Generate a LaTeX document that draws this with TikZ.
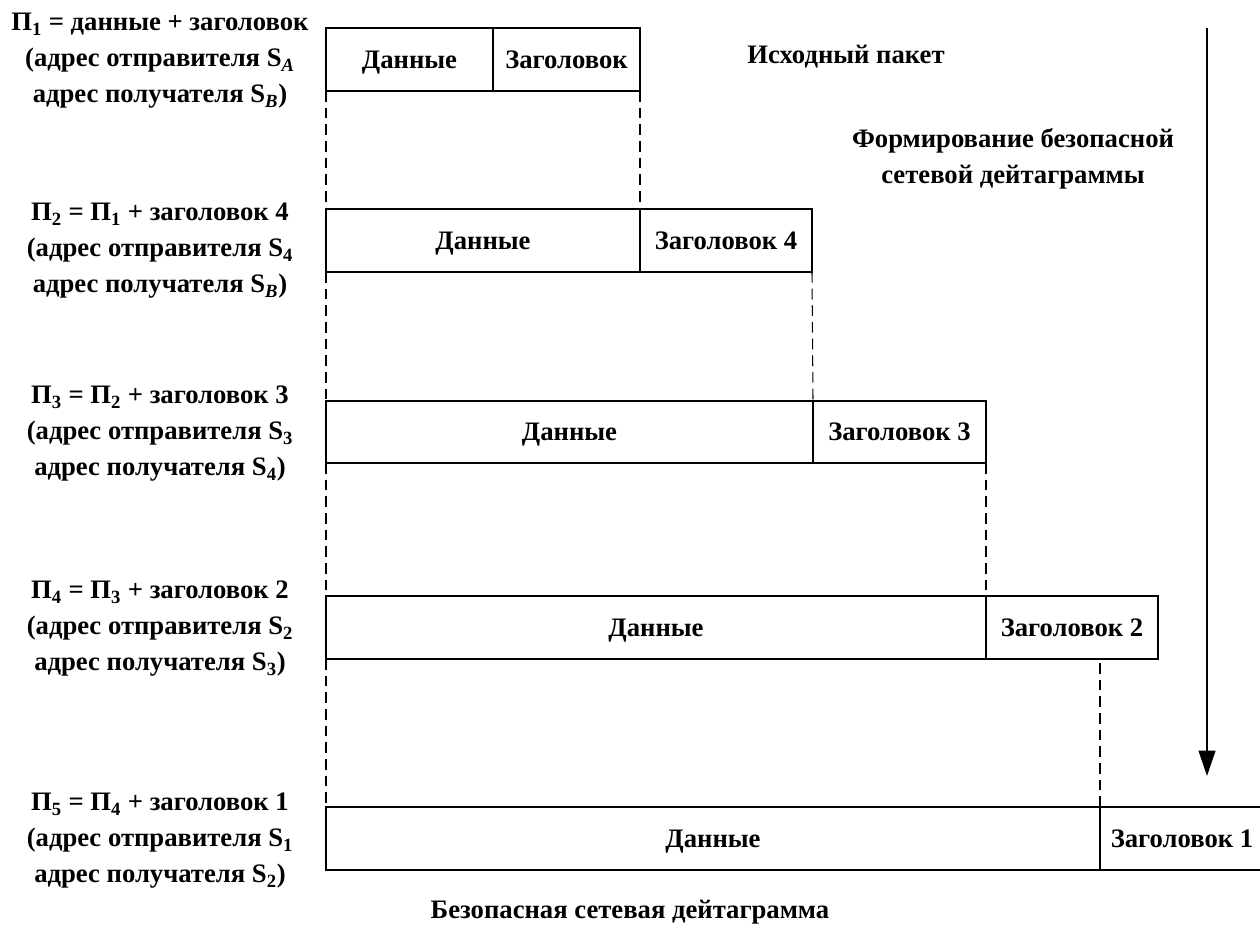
\documentclass[tikz,border=0pt]{standalone}
\usepackage{fontspec}
\setmainfont{Liberation Serif}
\usetikzlibrary{arrows.meta}
\newcommand\mkcell[6]{\node[cellbox, minimum width={(#3-#2)*0.75pt}, minimum height={(#5-#4)*0.75pt}] (#1) at ({(#2+#3)/2},{(#4+#5)/2}) {#6};}
\newcommand\sub[1]{\textsubscript{#1}}
\begin{document}
\begin{tikzpicture}[x=0.75pt,y=-0.75pt,
  txt/.style={font=\bfseries\fontsize{20}{27}\selectfont},
  cellbox/.style={draw, line width=0.8pt, inner sep=0pt, outer sep=0pt, txt, text height=17pt, text depth=4pt},
  lbl/.style={txt, align=center},
  guide/.style={line width=0.8pt, dash pattern=on 8pt off 4.5pt},
  flow/.style={line width=1.6pt, -{Triangle[length=19pt,width=12.5pt]}}]
\useasboundingbox (0,0) rectangle (1260,935);
% row 1
\mkcell{r1d}{326}{493}{28}{91}{Данные}
\mkcell{r1h}{493}{640}{28}{91}{Заголовок}
% row 2
\mkcell{r2d}{326}{640}{209}{272}{Данные}
\mkcell{r2h}{640}{812}{209}{272}{Заголовок 4}
% row 3
\mkcell{r3d}{326}{813}{401}{463}{Данные}
\mkcell{r3h}{813}{986}{401}{463}{Заголовок 3}
% row 4
\mkcell{r4d}{326}{986}{596}{659}{Данные}
\mkcell{r4h}{986}{1158}{596}{659}{Заголовок 2}
% row 5
\mkcell{r5d}{326}{1100}{807}{870}{Данные}
\mkcell{r5h}{1100}{1264}{807}{870}{}
\node[txt, text height=17pt, text depth=4pt] (r5ht) at (1182,838.5) {Заголовок 1};
% left labels
\node[lbl] (l1) at (160,61) {П\sub{1} = данные + заголовок\\(адрес отправителя S\sub{\textit{A}}\\адрес получателя S\sub{\textit{B}})};
\node[lbl] (l2) at (160,251) {П\sub{2} = П\sub{1} + заголовок 4\\(адрес отправителя S\sub{4}\\адрес получателя S\sub{\textit{B}})};
\node[lbl] (l3) at (160,434) {П\sub{3} = П\sub{2} + заголовок 3\\(адрес отправителя S\sub{3}\\адрес получателя S\sub{4})};
\node[lbl] (l4) at (160,629) {П\sub{4} = П\sub{3} + заголовок 2\\(адрес отправителя S\sub{2}\\адрес получателя S\sub{3})};
\node[lbl] (l5) at (160,841) {П\sub{5} = П\sub{4} + заголовок 1\\(адрес отправителя S\sub{1}\\адрес получателя S\sub{2})};
% other texts
\node[txt] (src) at (846,57) {Исходный пакет};
\node[lbl] (form) at (1013,159) {Формирование безопасной\\сетевой дейтаграммы};
\node[txt] (res) at (630,912) {Безопасная сетевая дейтаграмма};
% guides
\draw[guide] (r1d.south west) -- (r2d.north west);
\draw[guide] (r1h.south east) -- (r2h.north west);
\draw[guide] (r2d.south west) -- (r3d.north west);
\draw[guide] (r2h.south east) -- (r3h.north west);
\draw[guide] (r3d.south west) -- (r4d.north west);
\draw[guide] (r3h.south east) -- (r4h.north west);
\draw[guide] (r4d.south west) -- (r5d.north west);
\draw[guide] (r5h.north west) -- (r5h.north west |- r4h.south);
% flow arrow
\coordinate (ftop) at (1207,28);
\coordinate (fbot) at (1207,776);
\draw[flow] (ftop) -- (fbot);
\end{tikzpicture}
\end{document}
